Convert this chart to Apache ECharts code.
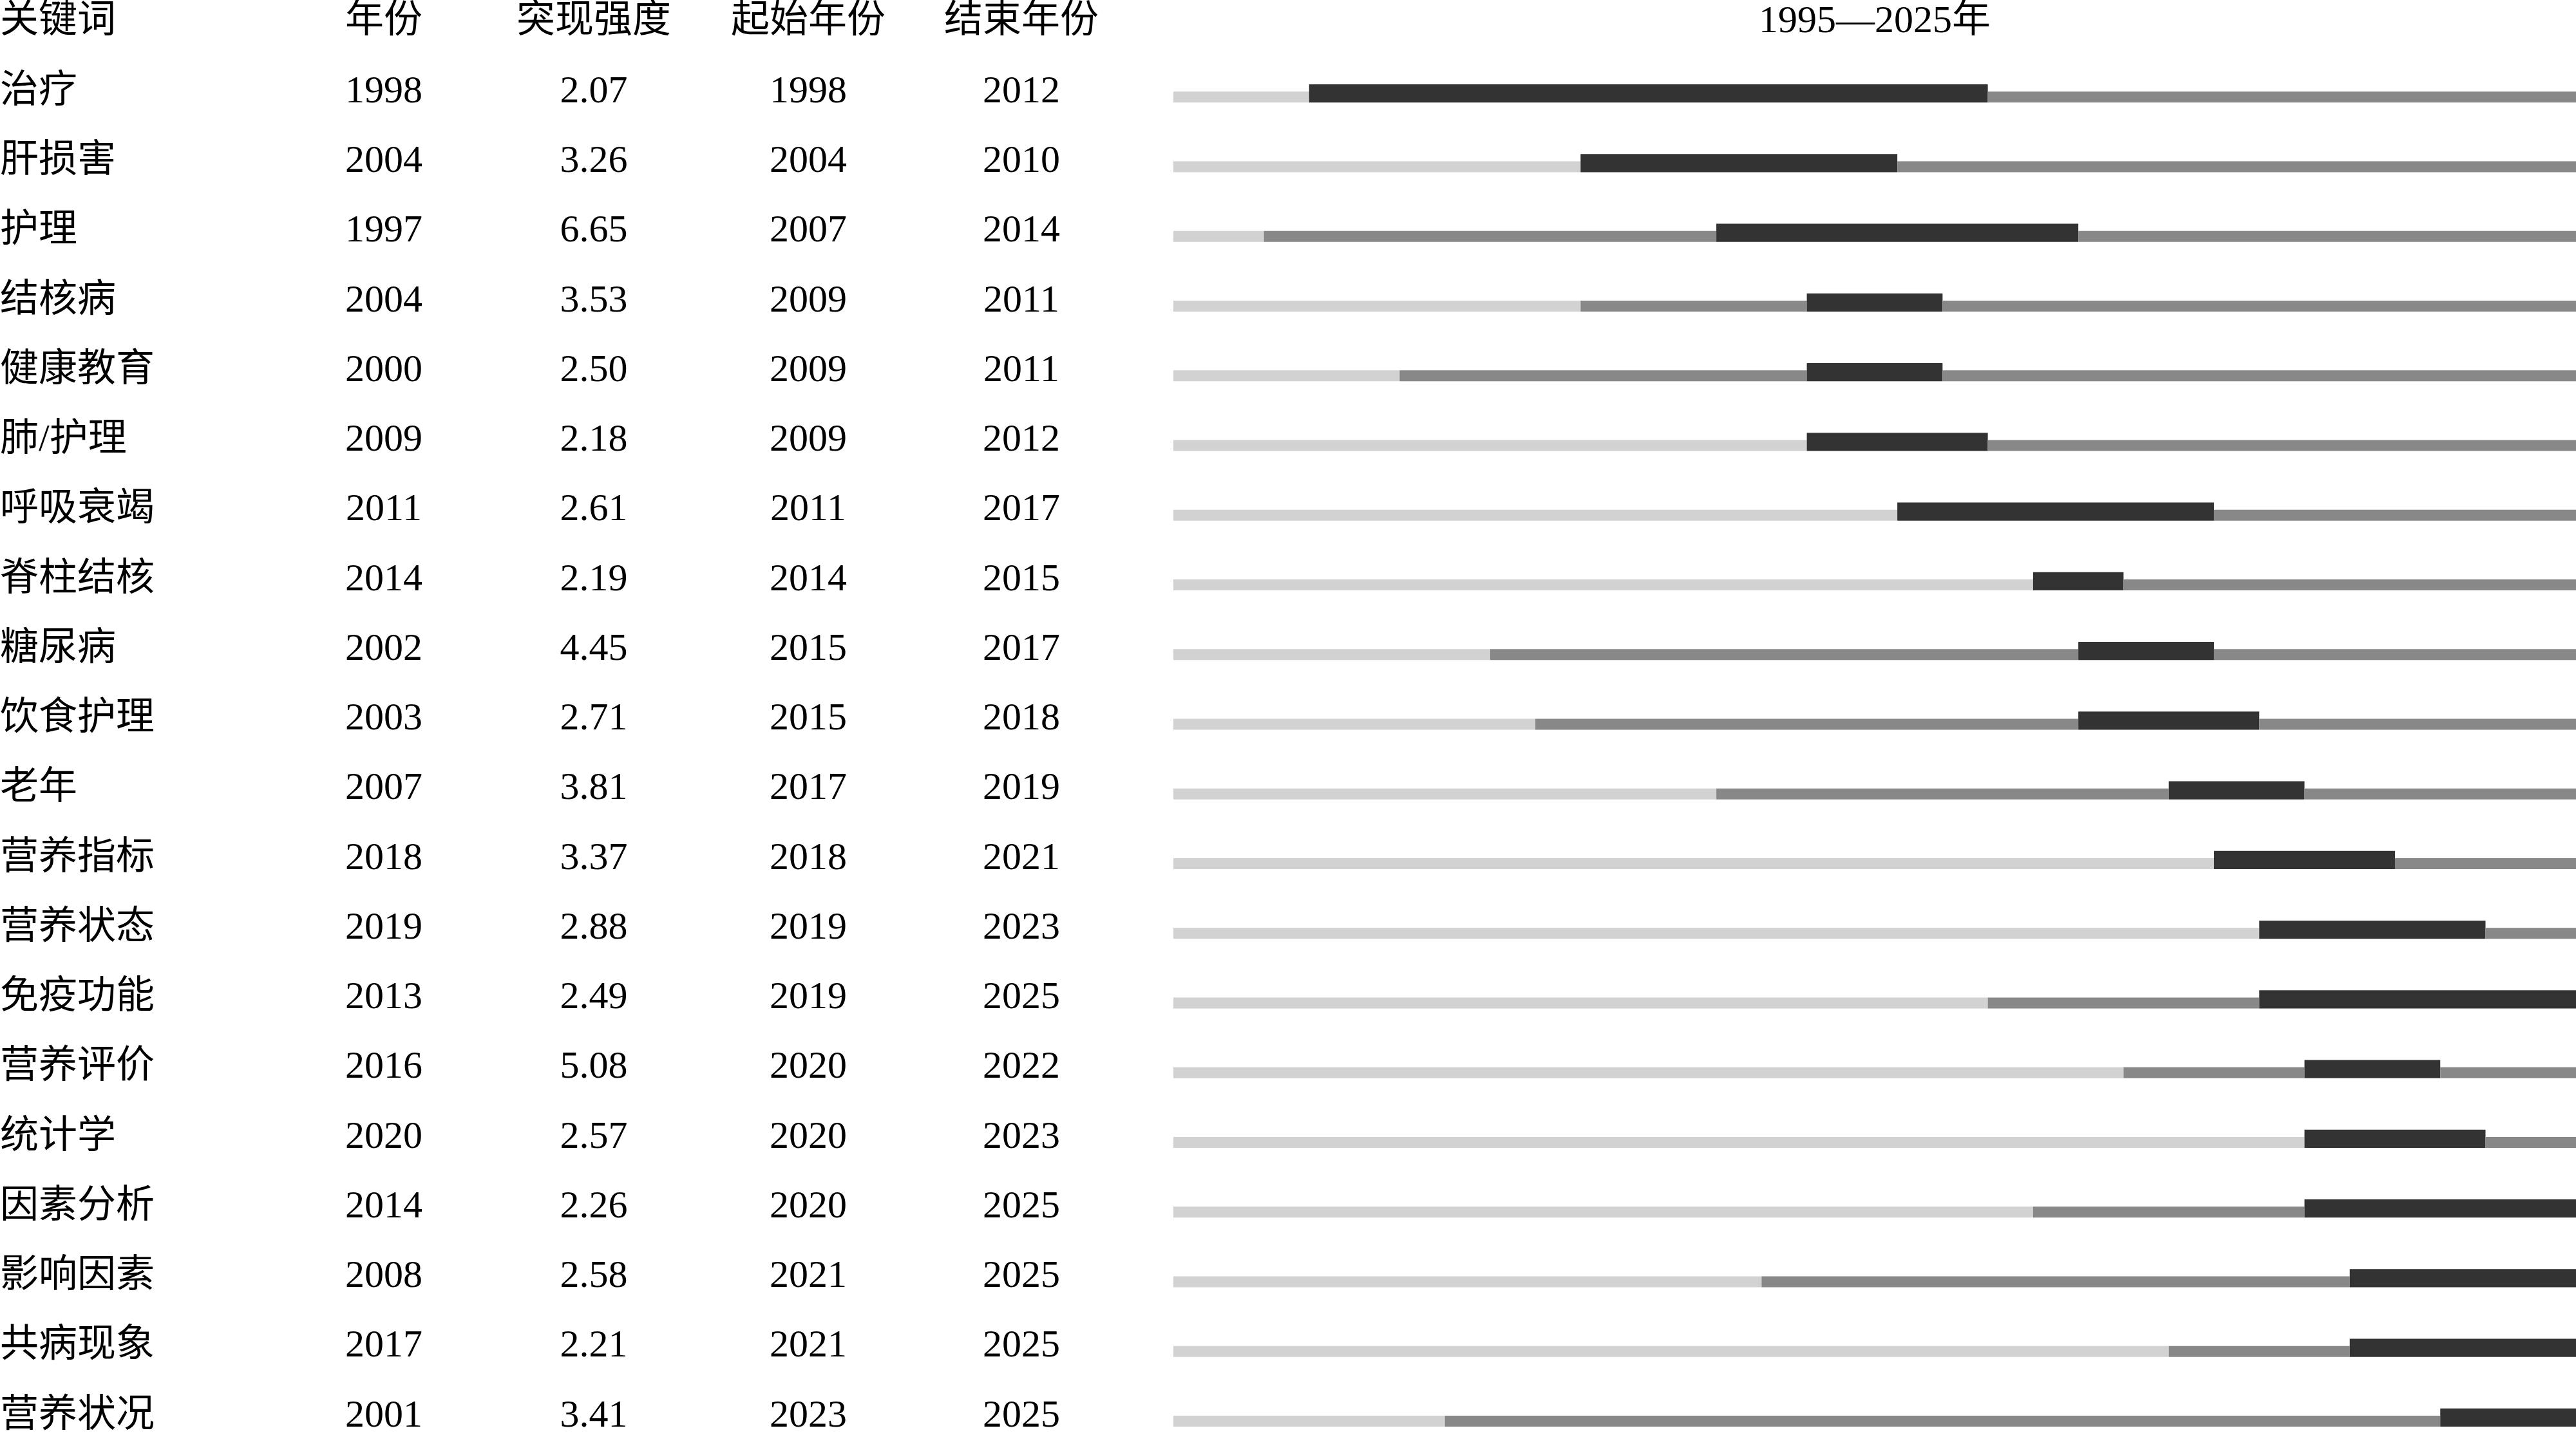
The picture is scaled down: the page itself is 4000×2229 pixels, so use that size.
<!DOCTYPE html>
<html lang="zh">
<head>
    <meta charset="UTF-8">
    <title>关键词突现</title>
    <script src="https://cdn.jsdelivr.net/npm/echarts@6/dist/echarts.min.js"></script>
    <style>
        html, body {margin: 0; padding: 0; background: #fff;}
        #main {width: 4000px; height: 2229px;}
    </style>
</head>
<body>
<div id="main"></div>
<script>
    // 数据
    var keywords = ['治疗', '肝损害', '护理', '结核病', '健康教育', '肺/护理', '呼吸衰竭', '脊柱结核', '糖尿病', '饮食护理',
        '老年', '营养指标', '营养状态', '免疫功能', '营养评价', '统计学', '因素分析', '影响因素', '共病现象', '营养状况'];
    var years = [1998, 2004, 1997, 2004, 2000, 2009, 2011, 2014, 2002, 2003,
        2007, 2018, 2019, 2013, 2016, 2020, 2014, 2008, 2017, 2001];
    var strengths = ['2.07', '3.26', '6.65', '3.53', '2.50', '2.18', '2.61', '2.19', '4.45', '2.71',
        '3.81', '3.37', '2.88', '2.49', '5.08', '2.57', '2.26', '2.58', '2.21', '3.41'];
    var begins = [1998, 2004, 2007, 2009, 2009, 2009, 2011, 2014, 2015, 2015,
        2017, 2018, 2019, 2019, 2020, 2020, 2020, 2021, 2021, 2023];
    var ends = [2012, 2010, 2014, 2011, 2011, 2012, 2017, 2015, 2017, 2018,
        2019, 2021, 2023, 2025, 2022, 2023, 2025, 2025, 2025, 2025];
    var firstYear = 1995;
    var lastYear = 2025;
    var headers = ['关键词', '年份', '突现强度', '起始年份', '结束年份'];
    var rangeTitle = '1995—2025年';

    var fontFamily = '"Liberation Serif", "Noto Sans CJK SC", serif';
    var gridLeft = 1822;
    var colors = ['#d2d2d2', '#888888', '#333333'];

    // 每行的分段：0=未出现，1=出现后，2=突现
    var segments = [];
    keywords.forEach(function (k, i) {
        if (years[i] > firstYear) segments.push([i, firstYear, years[i], 0]);
        if (begins[i] > years[i]) segments.push([i, years[i], begins[i], 1]);
        segments.push([i, begins[i], ends[i] + 1, 2]);
        if (ends[i] < lastYear) segments.push([i, ends[i] + 1, lastYear + 1, 1]);
    });

    function column(idx, centerX, values, align) {
        return {
            type: 'category',
            data: keywords,
            inverse: true,
            position: 'left',
            offset: gridLeft - centerX,
            axisLine: {show: false},
            axisTick: {show: false},
            splitLine: {show: false},
            axisLabel: {
                margin: 0,
                align: align,
                fontSize: 60,
                color: '#000',
                fontFamily: fontFamily,
                padding: [10, 0, 0, 0],
                formatter: function (v, i) {
                    return values[i];
                }
            },
            name: headers[idx],
            nameLocation: 'start',
            nameGap: 55,
            nameTextStyle: {
                fontSize: 60,
                color: '#000',
                fontFamily: fontFamily,
                align: align,
                verticalAlign: 'middle'
            }
        };
    }

    var myChart = echarts.init(document.getElementById('main'));
    var option = {
        animation: false,
        backgroundColor: '#fff',
        grid: {
            left: gridLeft,
            right: 0,
            top: 89,
            height: 2165,
            outerBoundsMode: 'none'
        },
        xAxis: {
            type: 'value',
            position: 'top',
            min: firstYear,
            max: lastYear + 1,
            axisLine: {show: false},
            axisTick: {show: false},
            axisLabel: {show: false},
            splitLine: {show: false},
            name: rangeTitle,
            nameLocation: 'middle',
            nameGap: 55,
            nameTextStyle: {
                fontSize: 60,
                color: '#000',
                fontFamily: fontFamily,
                verticalAlign: 'middle'
            }
        },
        yAxis: [
            column(0, 0, keywords, 'left'),
            column(1, 596, years.map(String), 'center'),
            column(2, 922, strengths, 'center'),
            column(3, 1255, begins.map(String), 'center'),
            column(4, 1586, ends.map(String), 'center')
        ],
        series: [{
            type: 'custom',
            yAxisIndex: 0,
            data: segments,
            encode: {x: [1, 2], y: 0},
            renderItem: function (params, api) {
                var row = api.value(0);
                var p0 = api.coord([api.value(1), row]);
                var p1 = api.coord([api.value(2), row]);
                var band = api.size([0, 1])[1];
                var level = api.value(3);
                var h = level === 2 ? band * 0.259 : band * 0.157;
                var bottom = p0[1] + band * 0.148;
                return {
                    type: 'rect',
                    shape: {x: p0[0], y: bottom - h, width: p1[0] - p0[0], height: h},
                    style: {fill: colors[level]}
                };
            }
        }]
    };
    myChart.setOption(option);
</script>
</body>
</html>
